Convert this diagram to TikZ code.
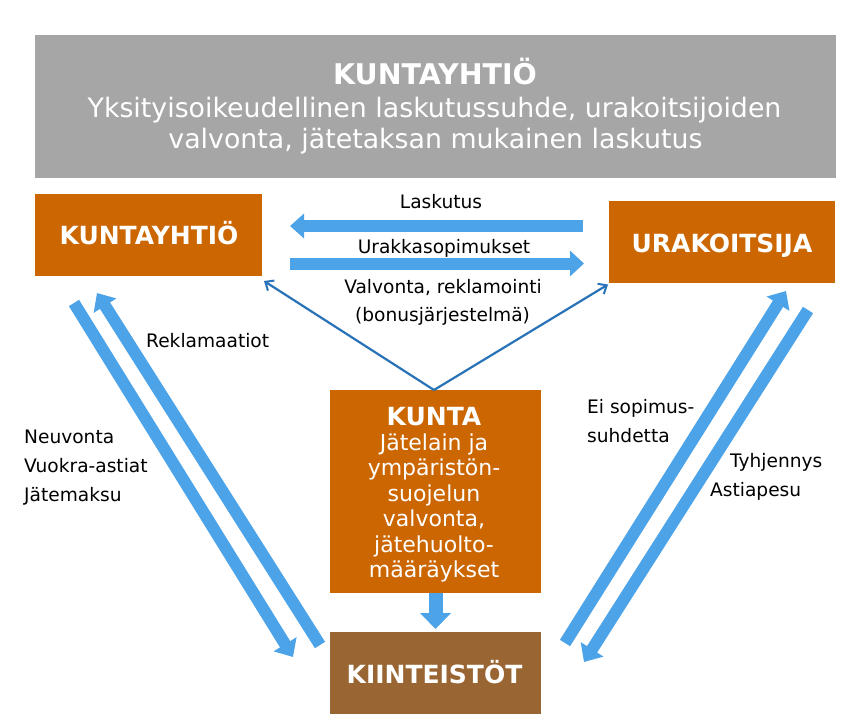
\documentclass[tikz,border=0pt]{standalone}
\usepackage{fontspec}
\setmainfont{DejaVu Sans}
\usetikzlibrary{arrows.meta}
\definecolor{orng}{RGB}{204,102,0}
\definecolor{brwn}{RGB}{153,102,51}
\definecolor{grayb}{RGB}{166,166,166}
\definecolor{lblue}{RGB}{77,163,232}
\definecolor{dblue}{RGB}{40,114,184}
\begin{document}
\begin{tikzpicture}[x=1pt,y=-1pt,
  box/.style={fill=orng, text=white, inner sep=0pt, align=center},
  fat/.style={draw=lblue, line width=12pt, -{Triangle[width=26pt,length=15pt]}},
  thin/.style={draw=dblue, line width=2.2pt, -{Straight Barb[length=7pt,width=12pt,line width=2pt]}},
  boxtxt/.style={inner sep=0pt, anchor=base, text=white, font=\fontsize{25}{30}\selectfont\bfseries},
  lbl/.style={inner sep=0pt, anchor=base, font=\fontsize{18.6}{22}\selectfont},
  lbll/.style={inner sep=0pt, anchor=base west, font=\fontsize{18.6}{22}\selectfont}]
\useasboundingbox (0,0) rectangle (867,720);
% boxes
\node[box, fill=grayb, minimum width=801pt, minimum height=143pt] (top) at (435.5,106.5) {};
\node[box, minimum width=227pt, minimum height=82pt] (kyh) at (148.5,235) {};
\node[box, minimum width=226pt, minimum height=82pt] (ura) at (722,242) {};
\node[box, minimum width=211pt, minimum height=203pt] (kunta) at (435.5,491.5) {};
\node[box, fill=brwn, minimum width=211pt, minimum height=82pt] (kiin) at (435.5,673) {};
% box texts
\node[inner sep=0pt, anchor=base, text=white, font=\fontsize{28.5}{31}\selectfont\bfseries] (t1) at (435,84) {KUNTAYHTIÖ};
\node[inner sep=0pt, anchor=base, text=white, font=\fontsize{26.8}{31}\selectfont] (t2) at (434.5,117.5) {Yksityisoikeudellinen laskutussuhde, urakoitsijoiden};
\node[inner sep=0pt, anchor=base, text=white, font=\fontsize{26.8}{31}\selectfont] (t3) at (435.5,148.5) {valvonta, jätetaksan mukainen laskutus};
\node[boxtxt] (kyht) at (149,244) {KUNTAYHTIÖ};
\node[boxtxt] (urat) at (722,252) {URAKOITSIJA};
\node[boxtxt] (kiint) at (434.5,683) {KIINTEISTÖT};
\node[boxtxt] (kuntat) at (434,425) {KUNTA};
\node[inner sep=0pt, anchor=base, text=white, align=center, font=\fontsize{22}{25.5}\selectfont] (kuntab) at (434,577.5) {Jätelain ja\\ympäristön-\\suojelun\\valvonta,\\jätehuolto-\\määräykset};
% horizontal arrows
\coordinate (la1) at (583,226); \coordinate (la2) at (290,226);
\coordinate (ur1) at (290,263.5); \coordinate (ur2) at (584,263.5);
\draw[fat, -{Triangle[width=24pt,length=14pt]}] (la1) -- (la2);
\draw[fat, -{Triangle[width=25pt,length=14pt]}] (ur1) -- (ur2);
% thin arrows
\coordinate (apex) at (434,390);
\draw[thin] (apex) -- (264,281);
\draw[thin] (apex) -- (608,284.5);
% down arrow
\draw[fat, line width=14pt, -{Triangle[width=30pt,length=16pt]}] (kunta.south) -- (435.5,629);
% left diagonal
\coordinate (lu1) at (320,645); \coordinate (lu2) at (97,293);
\coordinate (ld1) at (74,303); \coordinate (ld2) at (293,657);
\draw[fat] (lu1) -- (lu2);
\draw[fat] (ld1) -- (ld2);
% right diagonal
\coordinate (ru1) at (565,643); \coordinate (ru2) at (786,291);
\coordinate (rd1) at (808,310); \coordinate (rd2) at (584,662);
\draw[fat] (ru1) -- (ru2);
\draw[fat] (rd1) -- (rd2);
% labels
\node[lbl] (l1) at (441,208) {Laskutus};
\node[lbl] (l2) at (444,253) {Urakkasopimukset};
\node[lbl] (l3) at (443,293) {Valvonta, reklamointi};
\node[lbl] (l4) at (442.5,321) {(bonusjärjestelmä)};
\node[lbll] (l5) at (146,347) {Reklamaatiot};
\node[lbll] (l6) at (24,443) {Neuvonta};
\node[lbll] (l7) at (24,472) {Vuokra-astiat};
\node[lbll] (l8) at (24,501) {Jätemaksu};
\node[lbll] (l9) at (587,413) {Ei sopimus-};
\node[lbll] (l10) at (587,442) {suhdetta};
\node[lbll] (l11) at (730,467) {Tyhjennys};
\node[lbll] (l12) at (710,496) {Astiapesu};
\end{tikzpicture}
\end{document}
